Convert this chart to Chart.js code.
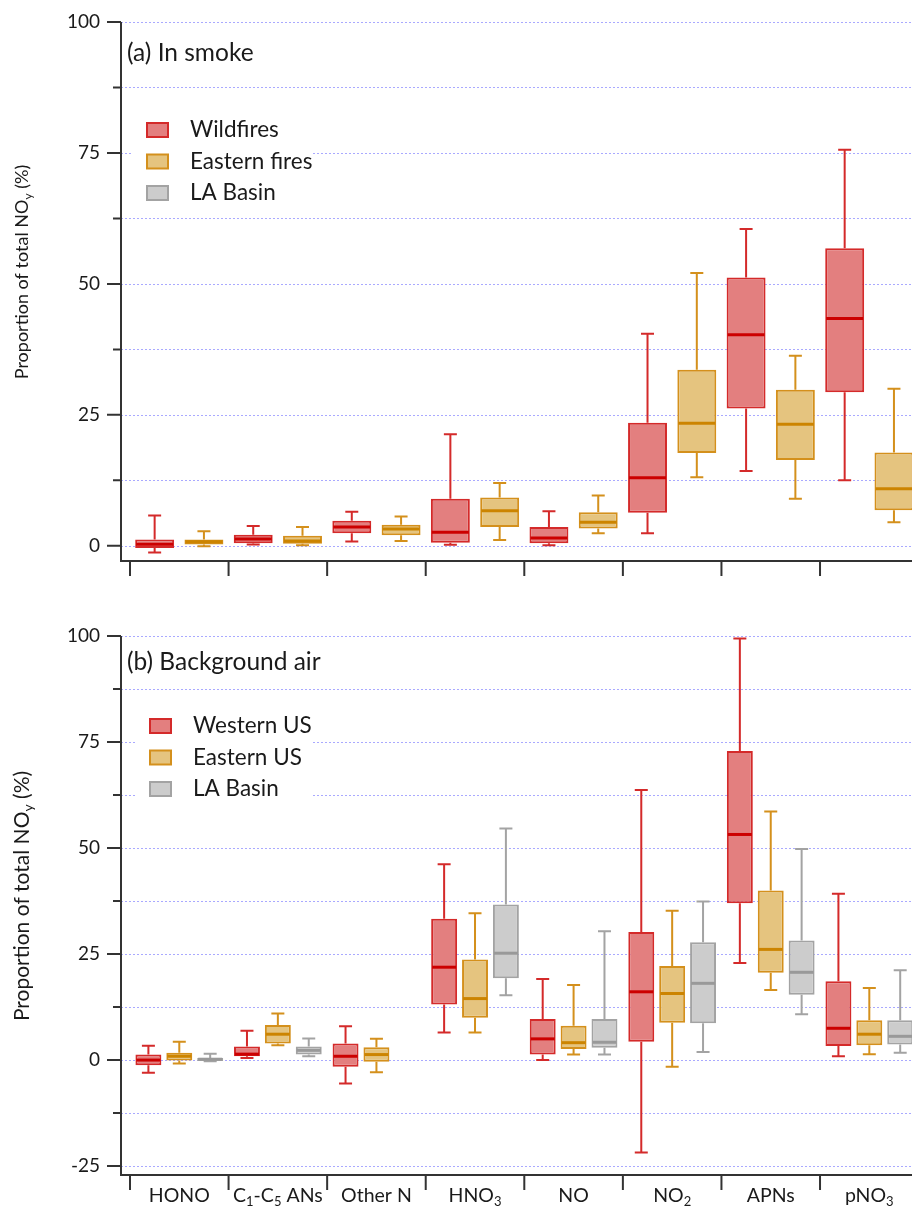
<!DOCTYPE html>
<html>
<head>
<meta charset="utf-8">
<script src="https://cdn.jsdelivr.net/npm/chart.js@4.4.1/dist/chart.umd.min.js"></script>
<style>
html, body { margin: 0; padding: 0; overflow: hidden; background: #fff; }
canvas { display: block; }
</style>
</head>
<body>
<canvas id="smokeChart" width="932" height="600"></canvas>
<canvas id="bgChart" width="932" height="608"></canvas>
<script>
const categories = ['HONO', 'C1-C5 ANs', 'Other N', 'HNO3', 'NO', 'NO2', 'APNs', 'pNO3'];
const yTicksSmoke = [0, 12.5, 25, 37.5, 50, 62.5, 75, 87.5, 100];
const yTicksBg = [-25, -12.5, 0, 12.5, 25, 37.5, 50, 62.5, 75, 87.5, 100];

// each box: [min, q1, median, q3, max]
const wildfires = [
    [-1.3, -0.4, 0.3, 1.2, 5.8], [0.25, 0.5, 1.3, 2.1, 3.8], [0.8, 2.4, 3.6, 4.8, 6.5], [0.2, 0.6, 2.6, 9.0, 21.3],
    [0.1, 0.5, 1.5, 3.6, 6.6], [2.4, 6.3, 13.0, 23.5, 40.5], [14.3, 26.2, 40.3, 51.2, 60.5], [12.5, 29.3, 43.4, 56.8, 75.6]
];
const easternFires = [
    [-0.1, 0.25, 0.76, 1.2, 2.8], [0.1, 0.4, 0.9, 1.9, 3.6], [0.9, 2.0, 3.2, 4.0, 5.6], [1.1, 3.6, 6.7, 9.2, 12.0],
    [2.4, 3.3, 4.5, 6.4, 9.6], [13.1, 17.7, 23.4, 33.6, 52.1], [9.0, 16.4, 23.2, 29.8, 36.3], [4.5, 6.8, 10.9, 17.8, 30.0]
];
const westernUS = [
    [-3.0, -1.2, 0.0, 1.3, 3.4], [0.5, 0.9, 1.4, 3.2, 6.9], [-5.5, -1.6, 0.9, 3.9, 8.0], [6.5, 13.1, 21.9, 33.3, 46.2],
    [0.0, 1.3, 5.0, 9.7, 19.1], [-21.8, 4.3, 16.1, 30.2, 63.7], [22.9, 37.0, 53.2, 72.9, 99.4], [0.9, 3.3, 7.5, 18.6, 39.2]
];
const easternUS = [
    [-0.8, -0.1, 0.9, 1.7, 4.3], [3.5, 3.9, 6.1, 8.3, 11.0], [-2.9, -0.4, 1.3, 3.0, 5.0], [6.5, 10.0, 14.5, 23.7, 34.6],
    [1.3, 2.6, 4.1, 8.1, 17.7], [-1.6, 8.8, 15.7, 22.2, 35.2], [16.5, 20.6, 26.1, 40.0, 58.6], [1.4, 3.5, 6.1, 9.4, 17.0]
];
const laBasin = [
    [-0.3, -0.2, 0.2, 0.5, 1.5], [0.9, 1.3, 2.3, 3.2, 5.1], null, [15.3, 19.3, 25.2, 36.7, 54.6],
    [1.3, 2.9, 4.2, 9.7, 30.4], [1.9, 8.7, 18.1, 27.8, 37.4], [10.8, 15.4, 20.7, 28.2, 49.8], [1.7, 3.7, 5.6, 9.4, 21.2]
];

const red = { fill: '#e37f7f', line: '#d42a2a', median: '#cc0000' };
const gold = { fill: '#e5c47f', line: '#d4901c', median: '#cc8400' };
const grey = { fill: '#cccccc', line: '#a3a3a3', median: '#999999' };

const FONT = 'Lato, "Open Sans", sans-serif';
const AXIS_X = 121;

// digits in a category name are drawn as subscripts
function richParts(text) {
    return text.split(/(\d+)/).filter(p => p !== '').map(p => [p, /^\d+$/.test(p)]);
}
function drawRich(ctx, parts, x, y, size, align) {
    const subSize = Math.round(size * 0.68);
    let total = 0;
    parts.forEach(([t, sub]) => {
        ctx.font = `${sub ? subSize : size}px ${FONT}`;
        total += ctx.measureText(t).width;
    });
    let cx = align === 'center' ? x - total / 2 : x;
    ctx.textAlign = 'left';
    ctx.textBaseline = 'middle';
    parts.forEach(([t, sub]) => {
        ctx.font = `${sub ? subSize : size}px ${FONT}`;
        ctx.fillText(t, cx, sub ? y + size * 0.32 : y);
        cx += ctx.measureText(t).width;
    });
}

const boxPlugin = {
    id: 'boxes',
    beforeDatasetsDraw(chart) {
        const { ctx, scales: { y } } = chart;
        const spec = chart.options.plugins.boxes;
        ctx.save();
        ctx.strokeStyle = '#a9a9ff';
        ctx.lineWidth = 1;
        ctx.setLineDash([2, 2]);
        spec.yTicks.forEach(v => {
            const py = Math.round(y.getPixelForValue(v)) + 0.5;
            ctx.beginPath();
            ctx.moveTo(AXIS_X, py);
            ctx.lineTo(chart.width, py);
            ctx.stroke();
        });
        ctx.restore();
    },
    afterDatasetsDraw(chart) {
        const { ctx, scales: { y } } = chart;
        ctx.save();
        chart.data.datasets.forEach((ds, k) => {
            const meta = chart.getDatasetMeta(k);
            meta.data.forEach((bar, i) => {
                const st = ds.stats[i];
                if (!st) return;
                const x = bar.x, w = bar.width;
                ctx.strokeStyle = ds.borderColor;
                ctx.lineWidth = 2;
                ctx.beginPath();
                ctx.moveTo(x, y.getPixelForValue(st[3]));
                ctx.lineTo(x, y.getPixelForValue(st[4]));
                ctx.moveTo(x, y.getPixelForValue(st[1]));
                ctx.lineTo(x, y.getPixelForValue(st[0]));
                ctx.moveTo(x - 6.5, y.getPixelForValue(st[4]));
                ctx.lineTo(x + 6.5, y.getPixelForValue(st[4]));
                ctx.moveTo(x - 6.5, y.getPixelForValue(st[0]));
                ctx.lineTo(x + 6.5, y.getPixelForValue(st[0]));
                ctx.stroke();
                ctx.strokeStyle = ds.medianColor;
                ctx.lineWidth = 3;
                ctx.beginPath();
                ctx.moveTo(x - w / 2 + 1, y.getPixelForValue(st[2]));
                ctx.lineTo(x + w / 2 - 1, y.getPixelForValue(st[2]));
                ctx.stroke();
            });
        });
        ctx.restore();
    },
    afterDraw(chart) {
        const { ctx, chartArea, scales: { x, y } } = chart;
        const spec = chart.options.plugins.boxes;
        ctx.save();
        // axes
        ctx.strokeStyle = '#333';
        ctx.lineWidth = 2;
        ctx.beginPath();
        ctx.moveTo(AXIS_X, y.getPixelForValue(100));
        ctx.lineTo(AXIS_X, chartArea.bottom + 1);
        ctx.moveTo(AXIS_X - 1, chartArea.bottom);
        ctx.lineTo(chart.width, chartArea.bottom);
        spec.yTicks.forEach(v => {
            const len = v % 25 === 0 ? 14 : 8;
            const py = y.getPixelForValue(v);
            ctx.moveTo(AXIS_X - len, py);
            ctx.lineTo(AXIS_X, py);
        });
        for (let i = 0; i <= categories.length; i++) {
            const px = x.getPixelForValue(i - 0.5);
            ctx.moveTo(px, chartArea.bottom);
            ctx.lineTo(px, chartArea.bottom + 15);
        }
        ctx.stroke();

        ctx.fillStyle = '#1a1a1a';
        if (spec.showLabels) {
            categories.forEach((c, i) => {
                drawRich(ctx, richParts(c), x.getPixelForValue(i), chartArea.bottom + 21, 19.5, 'center');
            });
        }
        // axis title
        ctx.save();
        ctx.translate(22, spec.yTitle[1]);
        ctx.rotate(-Math.PI / 2);
        drawRich(ctx, [['Proportion of total NO', false], ['y', true], [' (%)', false]], 0, 0, spec.yTitle[0], 'center');
        ctx.restore();
        // panel title
        drawRich(ctx, [[spec.title, false]], 127, spec.titleY, 24.5, 'left');
        // legend
        const lg = spec.legend;
        ctx.fillStyle = '#fff';
        ctx.fillRect(lg.box[0], lg.box[1], lg.box[2], lg.box[3]);
        lg.names.forEach((name, k) => {
            const cy = lg.top + k * 31.5;
            ctx.fillStyle = lg.colors[k].fill;
            ctx.strokeStyle = lg.colors[k].line;
            ctx.lineWidth = 2;
            ctx.fillRect(lg.x, cy - 7, 21, 14);
            ctx.strokeRect(lg.x, cy - 7, 21, 14);
            ctx.fillStyle = '#1a1a1a';
            drawRich(ctx, [[name, false]], lg.x + 43, cy, 22.5, 'left');
        });
        ctx.restore();
    }
};

function makePanel(id, spec) {
    const datasets = spec.series.map((s, k) => ({
        label: spec.names[k],
        data: s.map(b => b ? [b[1], b[3]] : null),
        stats: s,
        backgroundColor: spec.colors[k].fill,
        borderColor: spec.colors[k].line,
        medianColor: spec.colors[k].median,
        borderWidth: 2,
        borderSkipped: false,
        categoryPercentage: spec.catPct,
        barPercentage: spec.barPct
    }));
    return new Chart(document.getElementById(id), {
        type: 'bar',
        data: { labels: categories, datasets: datasets },
        plugins: [boxPlugin],
        options: {
            responsive: false,
            animation: false,
            devicePixelRatio: 1,
            layout: { padding: { top: spec.top, right: 932 - 918.6, left: 0, bottom: 0 } },
            plugins: {
                legend: { display: false },
                tooltip: { enabled: false },
                boxes: {
                    yTicks: spec.yTicks,
                    title: spec.title,
                    titleY: spec.titleY,
                    yTitle: spec.yTitle,
                    showLabels: spec.showLabels,
                    legend: { names: spec.names, colors: spec.legendColors, x: spec.legendX, top: spec.legendTop, box: spec.legendBox }
                }
            },
            scales: {
                x: {
                    type: 'category',
                    offset: true,
                    grid: { display: false, drawTicks: false },
                    border: { display: false },
                    ticks: { display: false },
                    afterFit: s => { s.height = spec.axisH; }
                },
                y: {
                    min: spec.yMin,
                    max: 100,
                    afterBuildTicks: a => { a.ticks = spec.yTicks.map(v => ({ value: v })); },
                    grid: { display: false, drawTicks: false },
                    border: { display: false },
                    ticks: {
                        padding: 30,
                        color: '#1a1a1a',
                        font: { family: FONT, size: 19 },
                        callback: v => v % 25 === 0 ? v : ''
                    },
                    afterFit: s => {
                        s.width = 130;
                        s.paddingTop = 0;
                        s.paddingBottom = 0;
                    }
                }
            }
        }
    });
}

makePanel('smokeChart', {
    series: [wildfires, easternFires],
    names: ['Wildfires', 'Eastern fires', 'LA Basin'],
    colors: [red, gold],
    legendColors: [red, gold, grey],
    legendX: 147, legendTop: 130, legendBox: [131, 112, 182, 97],
    yMin: -2.9, yTicks: yTicksSmoke,
    top: 22, axisH: 39,
    catPct: 1.0, barPct: 0.79,
    title: '(a) In smoke', titleY: 53,
    yTitle: [18, 272],
    showLabels: false
});

makePanel('bgChart', {
    series: [westernUS, easternUS, laBasin],
    names: ['Western US', 'Eastern US', 'LA Basin'],
    colors: [red, gold, grey],
    legendColors: [red, gold, grey],
    legendX: 150, legendTop: 126, legendBox: [135, 108, 177, 96],
    yMin: -27.1, yTicks: yTicksBg,
    top: 36, axisH: 33,
    catPct: 0.94, barPct: 0.84,
    title: '(b) Background air', titleY: 62,
    yTitle: [21, 296],
    showLabels: true
});
</script>
</body>
</html>
